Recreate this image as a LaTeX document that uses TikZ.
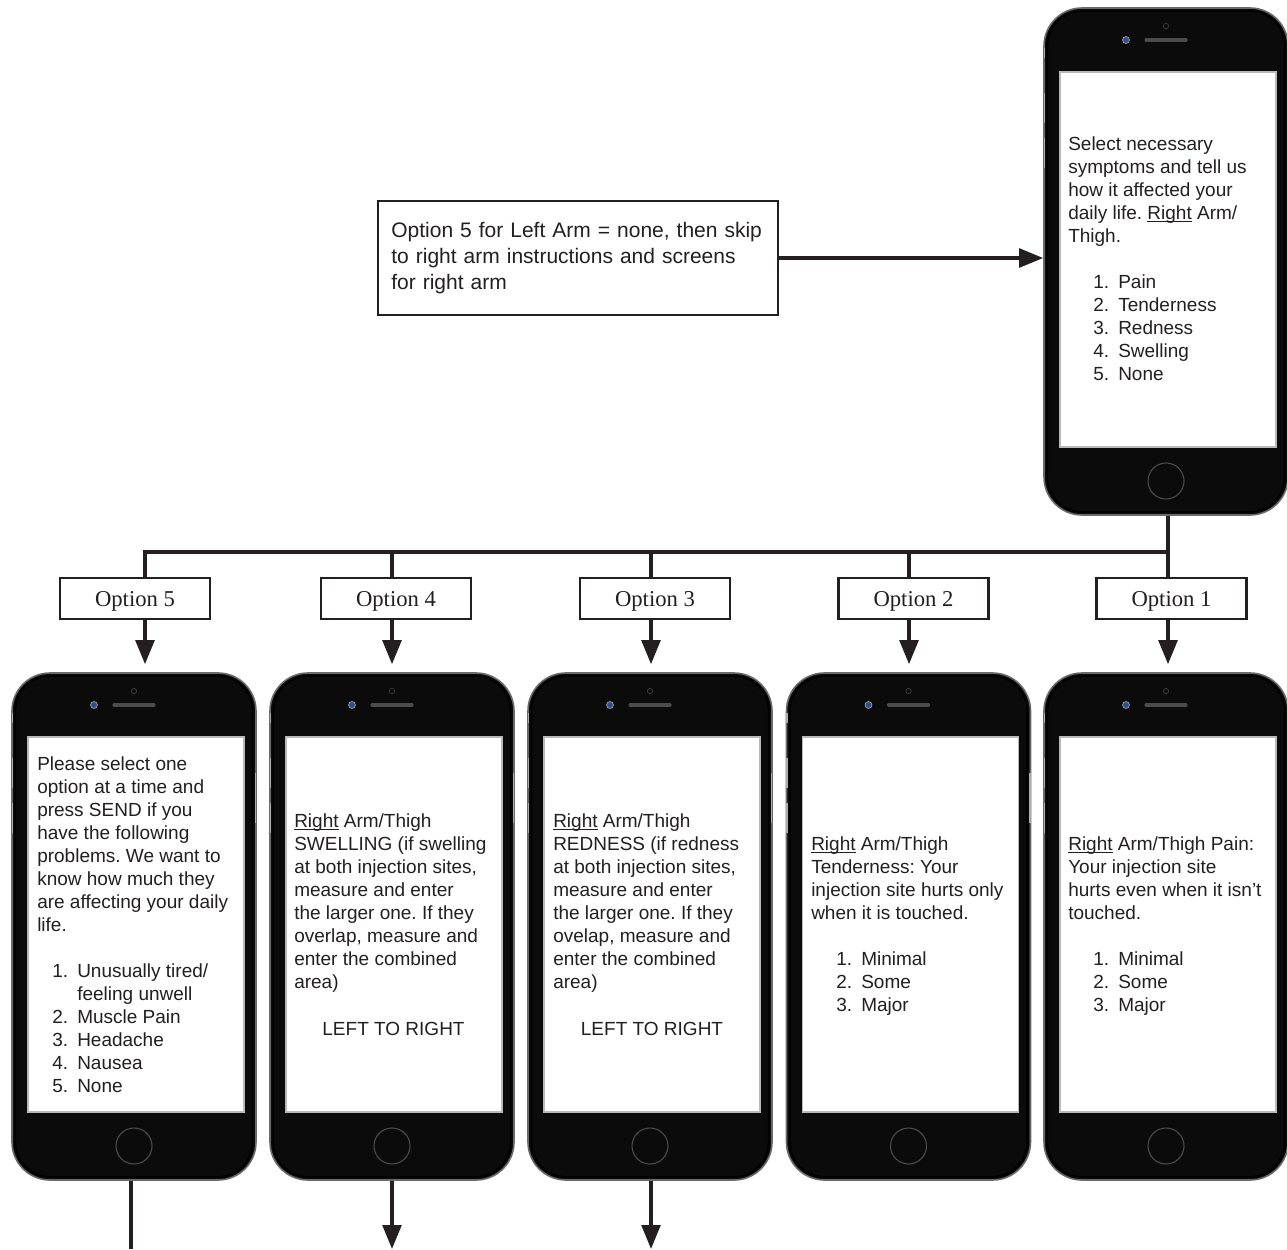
\documentclass[tikz,border=0pt]{standalone}
\usepackage{fontspec}
\setmainfont{Liberation Sans}
\newfontfamily\serifopt{Liberation Serif}
\usetikzlibrary{arrows.meta}
\definecolor{txt}{HTML}{231F20}
\definecolor{phonebk}{HTML}{0B0B0B}
\definecolor{rim}{HTML}{6A6A6A}
\definecolor{cam}{HTML}{2F4E8C}
\frenchspacing
\newcommand\li[3][18.75pt]{\hspace*{#1}\makebox[18.75pt][l]{#2}#3}
\newcommand\fl{\rule{0pt}{14.25pt}}
\newcommand\ul[1]{\setbox0\hbox{#1}\rlap{\rule[-1.9pt]{\wd0}{0.75pt}}\box0\relax}
\tikzset{
  phonebody/.style={rectangle, rounded corners=28.5pt, fill=phonebk, draw=rim, line width=1.2pt,
    minimum width=183pt, minimum height=380.25pt, inner sep=0pt},
  phoneinner/.style={rectangle, rounded corners=26pt, draw=black, line width=1.2pt,
    minimum width=178pt, minimum height=375.5pt, inner sep=0pt},
  screen/.style={rectangle, fill=white, draw=gray!55, line width=0.8pt,
    minimum width=162pt, minimum height=281.25pt, inner sep=0pt},
  speaker/.style={draw=gray!60!black, line width=2.4pt, line cap=round},
  homebtn/.style={draw=gray!60!black, line width=0.8pt},
  sidebtn/.style={draw=gray!65, line width=1.3pt},
  ptext/.style={anchor=north west, align=left, inner sep=0pt, text=txt,
    font=\fontsize{14.25}{17.25}\selectfont},
  ctext/.style={anchor=base, inner sep=0pt, text=txt, font=\fontsize{14.25}{17.25}\selectfont},
  optbox/.style={rectangle, draw=txt, line width=1.8pt, fill=white, minimum width=112.5pt,
    minimum height=30.75pt, inner sep=0pt, text depth=0pt, text=txt, font=\serifopt\fontsize{17}{20}\selectfont},
  notebox/.style={rectangle, draw=txt, line width=1.5pt, minimum width=300pt, minimum height=85.5pt,
    text width=280pt, align=left, inner xsep=9pt, text=txt, font=\fontsize{15.75}{19.5}\selectfont},
  conn/.style={draw=txt, line width=2.6pt},
  arr/.style={conn, -{Triangle[width=14pt,length=18pt]}},
}
\newcommand\mkphone[3]{%
  \node[phonebody] (#1) at (#2,#3+253.5) {};
  \node[phoneinner] (#1i) at (#2,#3+253.5) {};
  \node[screen] (#1s) at (#2+2,#3+251.5) {};
  \draw[speaker] (#2-20,#3+32) -- (#2+20,#3+32);
  \fill[cam, draw=gray!70, line width=0.5pt] (#2-40,#3+32) circle (2.6pt);
  \draw[gray!45!black, line width=0.6pt] (#2,#3+18) circle (2pt);
  \draw[homebtn] (#2,#3+473) circle (13.5pt);
  \draw[sidebtn] (#2-121.5,#3+40) -- (#2-121.5,#3+50);
  \draw[sidebtn] (#2-121.5,#3+85) -- (#2-121.5,#3+115);
  \draw[sidebtn] (#2-121.5,#3+130) -- (#2-121.5,#3+160);
  \draw[sidebtn] (#2+121.5,#3+100) -- (#2+121.5,#3+150);
}
\begin{document}
\begin{tikzpicture}[x=0.75pt, y=-0.75pt]
\useasboundingbox (0,0) rectangle (1287,1249);

% phones
\mkphone{tp}{1166}{8}
\mkphone{p1}{134}{673}
\mkphone{p2}{392}{673}
\mkphone{p3}{650}{673}
\mkphone{p4}{908.5}{673}
\mkphone{p5}{1166}{673}

% note box
\node[notebox] (tb) at (578,258) {Option 5 for Left Arm = none, then skip\\to right arm instructions and screens\\for right arm};
\draw[arr] (tb.east) -- (tb.east -| tp.west);

% option boxes
\node[optbox] (o5) at (135,598.5) {Option 5};
\node[optbox] (o4) at (396,598.5) {Option 4};
\node[optbox] (o3) at (655,598.5) {Option 3};
\node[optbox] (o2) at (913.5,598.5) {Option 2};
\node[optbox] (o1) at (1171.5,598.5) {Option 1};

% tree connectors
\coordinate (jr) at (1168,552);
\coordinate (j5) at (145,552);
\coordinate (j4) at (392,552);
\coordinate (j3) at (651,552);
\coordinate (j2) at (909,552);
\draw[conn, line join=miter] (tp.south -| jr) -- (jr) -- (j5) -- (o5.north -| j5);
\draw[conn] (j4) -- (o4.north -| j4);
\draw[conn] (j3) -- (o3.north -| j3);
\draw[conn] (j2) -- (o2.north -| j2);
\draw[conn] (jr) -- (o1.north -| jr);
\draw[arr, shorten >=6pt] (o5.south -| j5) -- (p1.north -| j5);
\draw[arr, shorten >=6pt] (o4.south -| j4) -- (p2.north -| j4);
\draw[arr, shorten >=6pt] (o3.south -| j3) -- (p3.north -| j3);
\draw[arr, shorten >=6pt] (o2.south -| j2) -- (p4.north -| j2);
\draw[arr, shorten >=6pt] (o1.south -| jr) -- (p5.north -| jr);

% bottom exits
\coordinate (b1) at (131,1249);
\coordinate (b2) at (392,1249);
\coordinate (b3) at (651,1249);
\draw[conn] (p1.south -| b1) -- (b1);
\draw[arr] (p2.south -| b2) -- (b2);
\draw[arr] (p3.south -| b3) -- (b3);

% screen texts
\node[ptext] (ttp) at (1068,131) {\fl Select necessary\\symptoms and tell us\\how it affected your\\daily life. \ul{Right} Arm/\\Thigh.\\[17.25pt]
\li{1.}{Pain}\\\li{2.}{Tenderness}\\\li{3.}{Redness}\\\li{4.}{Swelling}\\\li{5.}{None}};

\node[ptext] (tp1) at (37,751) {\fl Please select one\\option at a time and\\press SEND if you\\have the following\\problems. We want to\\know how much they\\are affecting your daily\\life.\\[17.25pt]
\li[11.25pt]{1.}{Unusually tired/}\\\hspace*{30pt}feeling unwell\\\li[11.25pt]{2.}{Muscle Pain}\\\li[11.25pt]{3.}{Headache}\\\li[11.25pt]{4.}{Nausea}\\\li[11.25pt]{5.}{None}};

\node[ptext] (tp2) at (294,808) {\fl\ul{Right} Arm/Thigh\\SWELLING (if swelling\\at both injection sites,\\measure and enter\\the larger one. If they\\overlap, measure and\\enter the combined\\area)};
\node[ctext] (lr2) at (393.5,1035) {LEFT TO RIGHT};

\node[ptext] (tp3) at (553,808) {\fl\ul{Right} Arm/Thigh\\REDNESS (if redness\\at both injection sites,\\measure and enter\\the larger one. If they\\ovelap, measure and\\enter the combined\\area)};
\node[ctext] (lr3) at (652,1035) {LEFT TO RIGHT};

\node[ptext] (tp4) at (811,831) {\fl\ul{Right} Arm/Thigh\\Tenderness: Your\\injection site hurts only\\when it is touched.\\[17.25pt]
\li{1.}{Minimal}\\\li{2.}{Some}\\\li{3.}{Major}};

\node[ptext] (tp5) at (1068,831) {\fl\ul{Right} Arm/Thigh Pain:\\Your injection site\\hurts even when it isn't\\touched.\\[17.25pt]
\li{1.}{Minimal}\\\li{2.}{Some}\\\li{3.}{Major}};
\end{tikzpicture}
\end{document}
